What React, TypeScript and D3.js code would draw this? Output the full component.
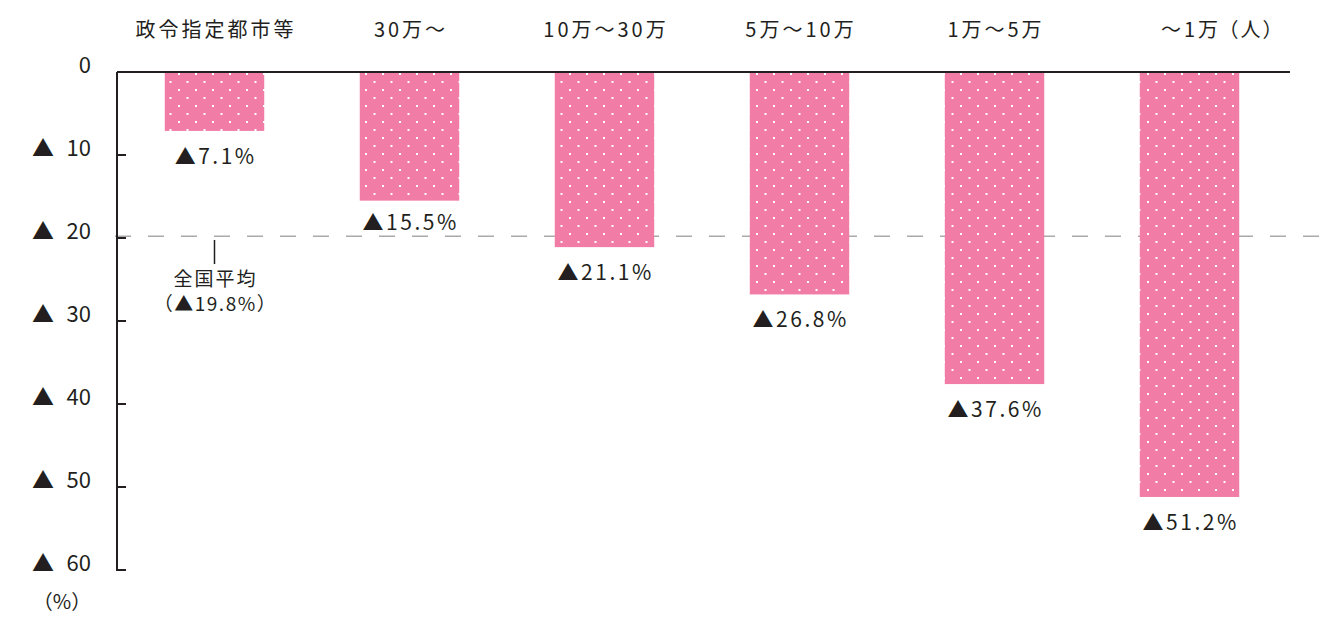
import * as d3 from "d3";

// 人口規模別の変化率（%、マイナス値を正で保持）
const categories = ["政令指定都市等", "30万～", "10万～30万", "5万～10万", "1万～5万", "～1万"];
const values = [7.1, 15.5, 21.1, 26.8, 37.6, 51.2];
const average = 19.8;
const yTicks = [0, 10, 20, 30, 40, 50, 60];

const W = 1324;
const H = 642;
const PINK = "#f17ca6";
const INK = "#231f20";
const FONT = "'Noto Sans CJK JP', 'Noto Sans', sans-serif";

const App = () => {
  const x = d3.scaleBand<string>().domain(categories).range([117, 1287]).paddingInner(0.49).paddingOuter(0.245);
  const y = d3.scaleLinear().domain([0, 60]).range([72, 570]);
  const bw = x.bandwidth();
  const fmt = (v: number) => `▲${v.toFixed(1)}%`;
  const avgX = x(categories[0])! + bw / 2;

  return (
    <svg width={W} height={H} style={{ display: "block", position: "absolute", left: 0, top: 0 }} fontFamily={FONT}>
      <defs>
        <pattern id="dots" patternUnits="userSpaceOnUse" width={17} height={16} x={0} y={4}>
          <rect width={17} height={16} fill={PINK} />
          <rect x={8} y={5} width={2} height={2} fill="#fff" />
          <rect x={16.5} y={13} width={2} height={2} fill="#fff" />
          <rect x={-0.5} y={13} width={2} height={2} fill="#fff" />
        </pattern>
      </defs>

      {/* 全国平均の破線 */}
      <line x1={115} x2={W} y1={y(average)} y2={y(average)} stroke="#aaa" strokeWidth={1.5} strokeDasharray="16 17" />

      {/* 棒 */}
      {categories.map((c, i) => (
        <rect key={c} x={x(c)} y={y(0)} width={bw} height={y(values[i]) - y(0)} fill="url(#dots)" />
      ))}

      {/* 軸 */}
      <line x1={117} x2={1290} y1={y(0)} y2={y(0)} stroke={INK} strokeWidth={2} />
      <line x1={117} x2={117} y1={y(0)} y2={y(60) + 1} stroke={INK} strokeWidth={2} />
      {yTicks.map((t) => (
        <g key={t} fill={INK}>
          {t > 0 && <line x1={117} x2={126} y1={y(t)} y2={y(t)} stroke={INK} strokeWidth={2} />}
          {t > 0 && (
            <text x={43} y={y(t) + 1} textAnchor="middle" fontSize={22}>
              ▲
            </text>
          )}
          <text x={91} y={y(t) + 1} textAnchor="end" fontSize={22}>
            {t}
          </text>
        </g>
      ))}
      <text x={62} y={609} textAnchor="middle" fontSize={20} fill={INK}>
        （%）
      </text>

      {/* カテゴリ名 */}
      {categories.map((c) => (
        <text key={c} x={x(c)! + bw / 2 + 1.5} y={37} textAnchor="middle" fontSize={20} letterSpacing={3} fill={INK}>
          {c}
        </text>
      ))}
      <text x={x(categories[5])! + bw / 2 + 29} y={37} fontSize={20} letterSpacing={2} fill={INK}>
        （人）
      </text>

      {/* 値ラベル */}
      {categories.map((c, i) => (
        <text key={c} x={x(c)! + bw / 2 + 1.2} y={y(values[i]) + (i === 1 ? 29 : 33)} textAnchor="middle" fontSize={21} letterSpacing={2.5} fill={INK}>
          {fmt(values[i])}
        </text>
      ))}

      {/* 全国平均の注記 */}
      <line x1={avgX} x2={avgX} y1={240} y2={264} stroke={INK} strokeWidth={1.5} />
      <text x={avgX + 1} y={286} textAnchor="middle" fontSize={19} letterSpacing={2} fill={INK}>
        全国平均
      </text>
      <text x={avgX + 1} y={311} textAnchor="middle" fontSize={19} letterSpacing={1.5} fill={INK}>
        （{fmt(average)}）
      </text>
    </svg>
  );
};

export default App;
